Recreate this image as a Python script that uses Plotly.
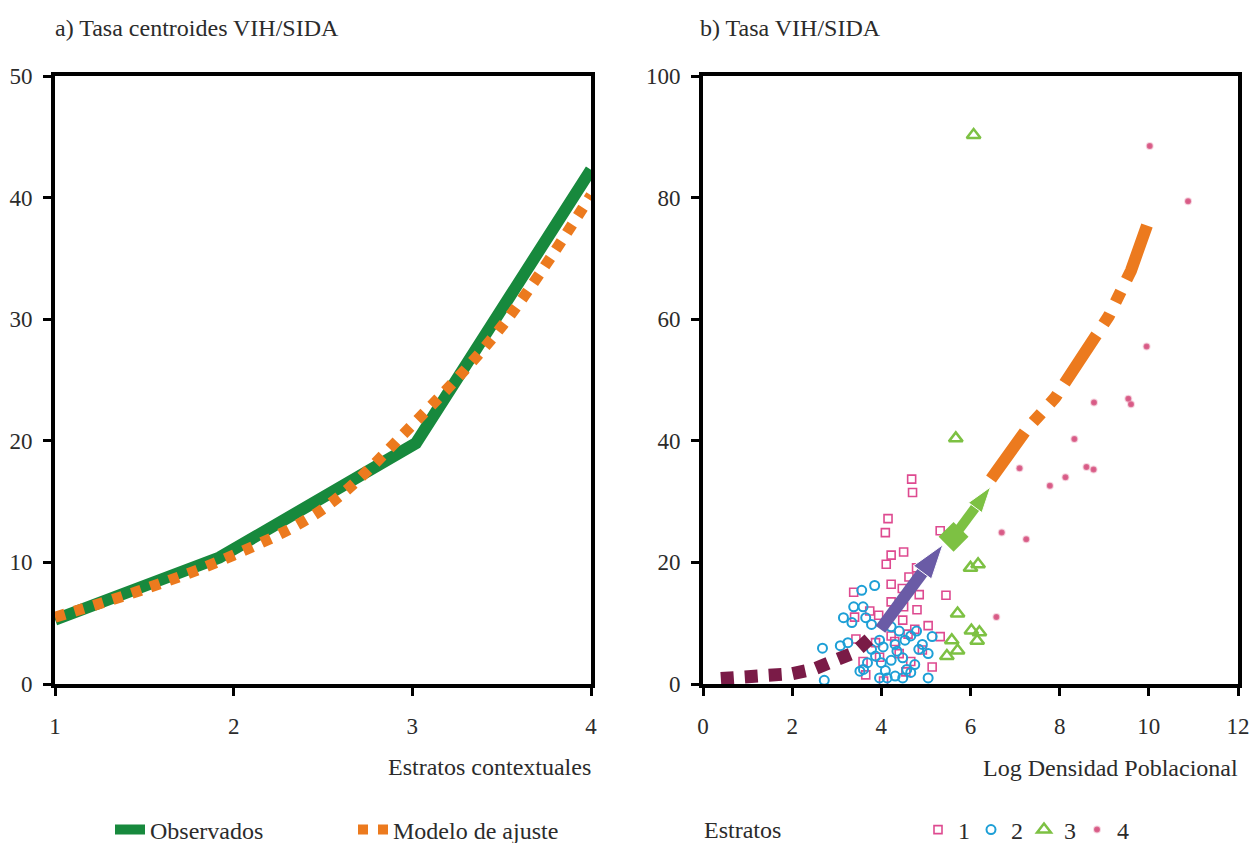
import plotly.graph_objects as go

# ---------------- Data ----------------
# Panel a) Tasa centroides VIH/SIDA
estratos_obs = [1, 1.92, 3.02, 4]
observados = [5.3, 10.4, 19.8, 42.3]
estratos_mod = [1, 1.5, 2, 2.5, 3, 3.5, 4]
modelo_ajuste = [5.5, 7.8, 10.6, 14.4, 21.3, 29.4, 40.2]

# Panel b) Tasa VIH/SIDA vs Log Densidad Poblacional
e1_x = [4.68, 4.70, 4.15, 4.09, 5.32, 4.22, 4.11, 4.50, 4.79, 4.62, 4.47, 4.22, 3.38, 4.85,
        5.45, 4.22, 4.80, 4.50, 3.94, 3.40, 5.05, 4.75, 5.32, 3.43, 4.92, 5.14, 4.66, 4.40,
        3.96, 3.59, 4.22, 4.48, 3.74, 3.87, 4.60, 4.30, 4.55, 3.65, 4.05]
e1_y = [33.7, 31.5, 27.2, 24.9, 25.2, 21.2, 19.7, 21.7, 19.1, 17.6, 15.7, 16.4, 15.1, 14.7,
        14.6, 13.5, 12.2, 12.7, 11.3, 11.0, 9.6, 9.0, 7.8, 7.4, 5.6, 2.8, 3.7, 5.0,
        4.4, 3.7, 7.9, 10.5, 12.0, 6.8, 8.2, 7.0, 2.0, 1.5, 0.5]

e2_x = [3.85, 3.56, 3.38, 3.59, 3.15, 3.34, 3.65, 2.68, 3.08, 3.25, 3.78, 3.78, 3.96, 4.04,
        3.87, 3.69, 3.60, 4.00, 4.09, 4.22, 4.35, 4.40, 4.53, 4.66, 4.79, 4.92, 5.05, 5.14,
        4.75, 4.57, 4.31, 4.13, 4.48, 4.66, 3.96, 3.52, 4.84, 4.31, 4.48, 5.05, 2.72, 4.22]
e2_y = [16.2, 15.4, 12.7, 12.7, 10.9, 10.1, 10.9, 5.9, 6.3, 6.8, 9.8, 5.7, 7.2, 6.1,
        4.6, 3.5, 2.4, 3.5, 2.2, 3.9, 5.4, 8.7, 7.2, 7.9, 8.7, 6.5, 5.0, 7.8,
        3.2, 2.4, 1.3, 1.0, 1.0, 1.9, 1.0, 2.1, 5.7, 6.5, 4.3, 1.0, 0.6, 9.4]

e3_x = [6.07, 5.67, 6.00, 6.17, 5.71, 6.02, 6.20, 6.15, 5.58, 5.47, 5.71]
e3_y = [90.3, 40.4, 19.1, 19.7, 11.6, 8.8, 8.5, 7.1, 7.2, 4.6, 5.5]

e4_x = [10.02, 10.88, 9.95, 9.54, 9.60, 8.77, 8.33, 7.10, 8.60, 8.76, 8.13, 7.78, 6.70, 7.25, 6.58]
e4_y = [88.5, 79.4, 55.5, 46.9, 46.0, 46.3, 40.3, 35.5, 35.7, 35.3, 34.0, 32.6, 24.9, 23.8, 11.0]

# fitted trend by strata
t1_x = [0.4, 1.0, 1.5, 2.0, 2.5, 3.0, 3.4, 3.85]
t1_y = [0.9, 1.1, 1.3, 1.7, 2.5, 3.7, 5.2, 8.2]
t2_x = [3.98, 5.38]
t2_y = [9.0, 22.9]
t3_x = [5.62, 6.45]
t3_y = [24.2, 32.4]
t4_x = [6.46, 7.25, 7.9, 8.7, 9.1, 9.6, 10.02]
t4_y = [33.7, 41.8, 47.1, 55.7, 60.5, 68.0, 76.7]

estrato_labels = ["1", "2", "3", "4"]

# ---------------- Style ----------------
FONT = "Liberation Serif, Times New Roman, serif"
TXT = "#2b2b2b"
GREEN = "#17893d"
ORANGE = "#ec7a1e"
MAROON = "#7a1b47"
PURPLE = "#6a5ba6"
LIME = "#7dc143"
PINK = "#de4a90"
CYAN = "#1d9fd6"
ROSE = "#d85a86"

fig = go.Figure()

# Panel a
fig.add_trace(go.Scatter(x=estratos_obs, y=observados, mode="lines", name="Observados",
                         line=dict(color=GREEN, width=12), xaxis="x", yaxis="y",
                         legend="legend"))
fig.add_trace(go.Scatter(x=estratos_mod, y=modelo_ajuste, mode="lines", name="Modelo de ajuste",
                         line=dict(color=ORANGE, width=11, dash="10px,10px", shape="spline"),
                         xaxis="x", yaxis="y", legend="legend"))

# Panel b scatter
fig.add_trace(go.Scatter(x=e1_x, y=e1_y, mode="markers", name=estrato_labels[0],
                         marker=dict(symbol="square-open", size=8, color=PINK, line=dict(width=1.6)),
                         xaxis="x2", yaxis="y2", legend="legend2"))
fig.add_trace(go.Scatter(x=e2_x, y=e2_y, mode="markers", name=estrato_labels[1],
                         marker=dict(symbol="circle-open", size=9, color=CYAN, line=dict(width=2)),
                         xaxis="x2", yaxis="y2", legend="legend2"))
fig.add_trace(go.Scatter(x=e3_x, y=e3_y, mode="markers", name=estrato_labels[2],
                         marker=dict(symbol="triangle-up-open", size=12, color=LIME, line=dict(width=2.5)),
                         xaxis="x2", yaxis="y2", legend="legend2"))
fig.add_trace(go.Scatter(x=e4_x, y=e4_y, mode="markers", name=estrato_labels[3],
                         marker=dict(symbol="circle", size=6, color=ROSE,
                                     line=dict(width=2, color="rgba(230,140,170,0.35)")),
                         xaxis="x2", yaxis="y2", legend="legend2"))

# Panel b trend segments
fig.add_trace(go.Scatter(x=t1_x, y=t1_y, mode="lines", showlegend=False,
                         line=dict(color=MAROON, width=13, dash="13px,11px"),
                         xaxis="x2", yaxis="y2"))
fig.add_trace(go.Scatter(x=t2_x, y=t2_y, mode="lines+markers", showlegend=False,
                         line=dict(color=PURPLE, width=12),
                         marker=dict(symbol="arrow", size=[0, 36], color=PURPLE,
                                     angleref="previous", opacity=1),
                         xaxis="x2", yaxis="y2"))
fig.add_trace(go.Scatter(x=t3_x, y=t3_y, mode="lines+markers", showlegend=False,
                         line=dict(color=LIME, width=10),
                         marker=dict(symbol="arrow", size=[0, 27], color=LIME,
                                     angleref="previous", opacity=1),
                         xaxis="x2", yaxis="y2"))
fig.add_trace(go.Scatter(x=t3_x[:1], y=t3_y[:1], mode="markers", showlegend=False,
                         marker=dict(symbol="diamond", size=23, color=LIME),
                         xaxis="x2", yaxis="y2"))
fig.add_trace(go.Scatter(x=t4_x, y=t4_y, mode="lines", showlegend=False,
                         line=dict(color=ORANGE, width=12, dash="58px,13px,12px,13px,12px,13px"),
                         xaxis="x2", yaxis="y2"))

axis_common = dict(showline=True, linewidth=4, linecolor="black", mirror=True,
                   ticks="outside", ticklen=8, tickwidth=3, tickcolor="black",
                   showgrid=False, zeroline=False, ticklabeloverflow="allow",
                   tickfont=dict(family=FONT, size=23, color=TXT))

YDOM = [1 - 684 / 843, 1 - 76 / 843]
fig.update_layout(
    width=1249, height=843,
    margin=dict(l=0, r=0, t=0, b=0, autoexpand=False),
    paper_bgcolor="white", plot_bgcolor="white",
    showlegend=True,
    xaxis=dict(domain=[55 / 1249, 591 / 1249], range=[1, 4], tickvals=[1, 2, 3, 4],
               anchor="y", ticklabelstandoff=10, **axis_common),
    yaxis=dict(domain=YDOM, range=[0, 50], dtick=10, anchor="x",
               ticklabelstandoff=6, **axis_common),
    xaxis2=dict(domain=[703 / 1249, 1238 / 1249], range=[0, 12], dtick=2, anchor="y2",
                ticklabelstandoff=10, **axis_common),
    yaxis2=dict(domain=YDOM, range=[0, 100], dtick=20, anchor="x2",
                ticklabelstandoff=6, **axis_common),
    legend=dict(x=110 / 1249, y=13 / 843, xanchor="left", yanchor="middle",
                orientation="h", entrywidth=198, entrywidthmode="pixels",
                font=dict(family=FONT, size=24, color=TXT), bgcolor="rgba(0,0,0,0)",
                borderwidth=0),
    legend2=dict(x=918 / 1249, y=13 / 843, xanchor="left", yanchor="middle",
                 orientation="h", entrywidth=8, entrywidthmode="pixels",
                 font=dict(family=FONT, size=24, color=TXT), bgcolor="rgba(0,0,0,0)",
                 borderwidth=0),
    annotations=[
        dict(text="a) Tasa centroides VIH/SIDA", x=53 / 1249, y=1 - 28 / 843, xref="paper",
             yref="paper", xanchor="left", yanchor="middle", showarrow=False,
             font=dict(family=FONT, size=24, color=TXT)),
        dict(text="b) Tasa VIH/SIDA", x=698 / 1249, y=1 - 28 / 843, xref="paper",
             yref="paper", xanchor="left", yanchor="middle", showarrow=False,
             font=dict(family=FONT, size=24, color=TXT)),
        dict(text="Estratos contextuales", x=593 / 1249, y=1 - 767 / 843, xref="paper",
             yref="paper", xanchor="right", yanchor="middle", showarrow=False,
             font=dict(family=FONT, size=24, color=TXT)),
        dict(text="Log Densidad Poblacional", x=1240 / 1249, y=1 - 768 / 843, xref="paper",
             yref="paper", xanchor="right", yanchor="middle", showarrow=False,
             font=dict(family=FONT, size=24, color=TXT)),
        dict(text="Estratos", x=702 / 1249, y=13 / 843, xref="paper",
             yref="paper", xanchor="left", yanchor="middle", showarrow=False,
             font=dict(family=FONT, size=24, color=TXT)),
    ],
)

fig.write_html("out.html")
